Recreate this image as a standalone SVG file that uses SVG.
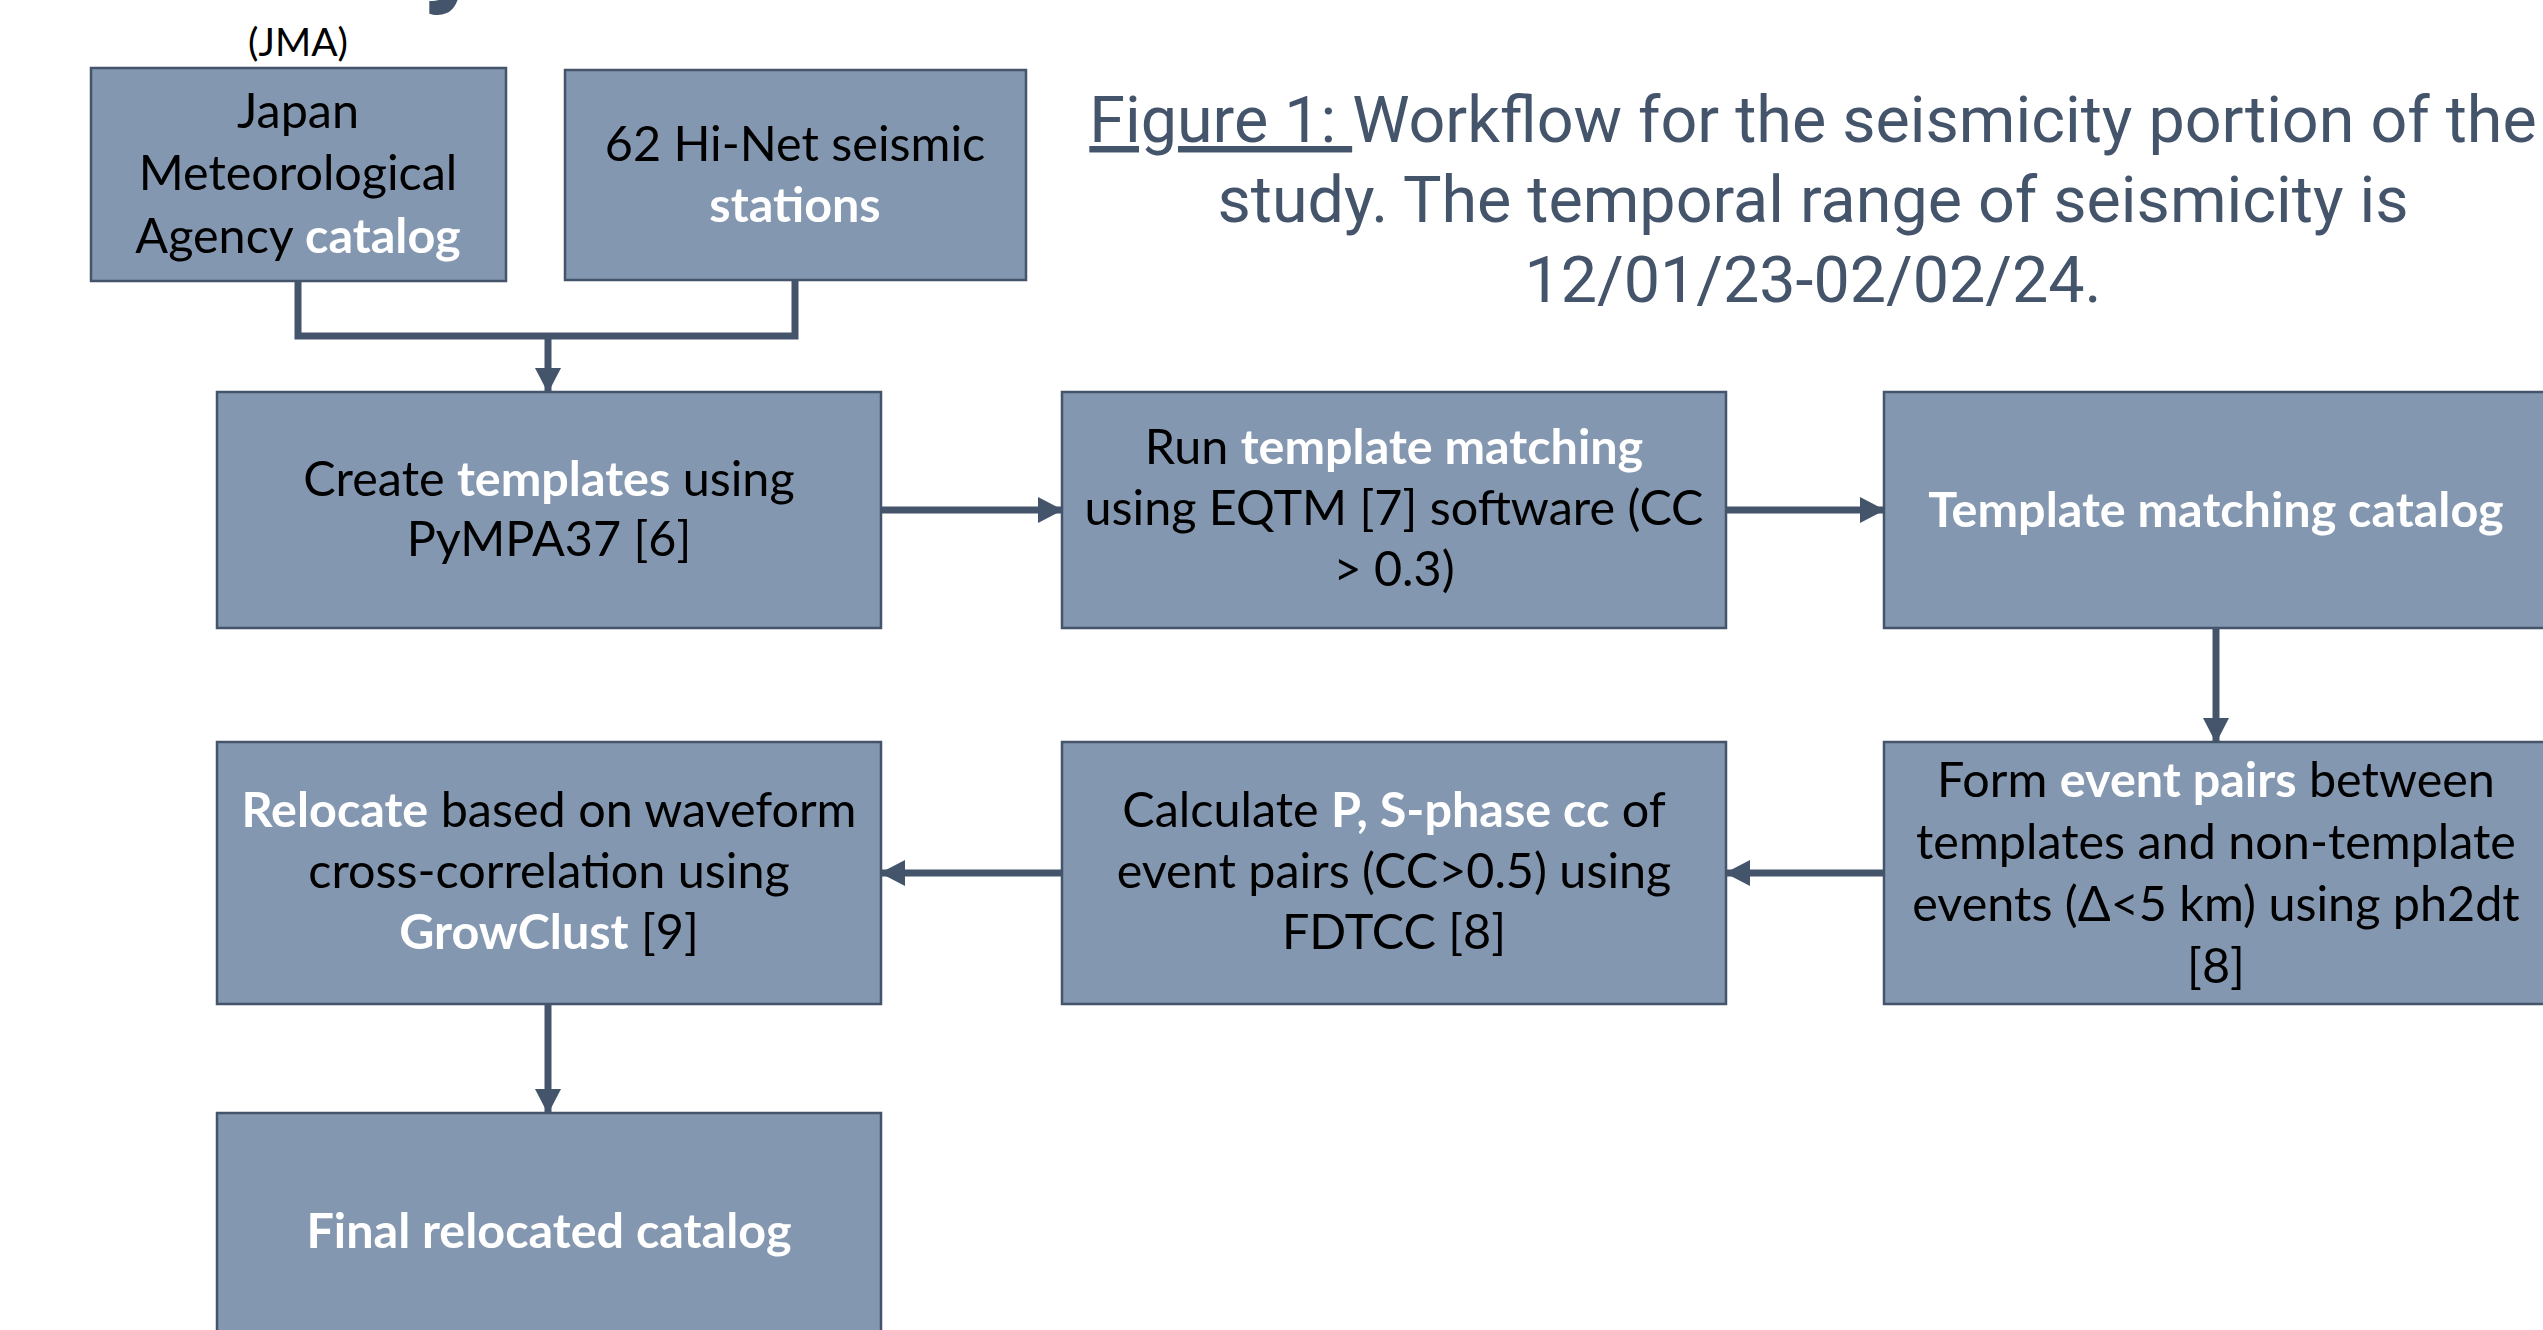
<svg xmlns="http://www.w3.org/2000/svg" width="2543" height="1330" viewBox="0 0 2543 1330">
<defs>
<style>
.box{fill:#8497B0;stroke:#44546A;stroke-width:2.5}
.t{font-family:Lato,"Open Sans",sans-serif;font-size:48.5px;fill:#000;text-anchor:middle}
.b{font-weight:bold;fill:#fff}
.cap{font-family:Roboto,"Liberation Sans",sans-serif;font-size:64.6px;fill:#44546A;text-anchor:middle}
.con{fill:none;stroke:#44546A;stroke-width:7}
</style>
<marker id="ah" markerUnits="userSpaceOnUse" markerWidth="25" markerHeight="26" refX="24" refY="13" orient="auto">
<path d="M0,0 L25,13 L0,26 z" fill="#44546A"/>
</marker>
</defs>
<rect width="2543" height="1330" fill="#fff"/>
<text x="422" y="-12" font-family="Roboto,sans-serif" font-weight="bold" font-size="125" fill="#44546A">y</text>
<g id="caption">
<text class="cap" x="1813" y="142"><tspan style="text-decoration:underline">Figure 1: </tspan>Workflow for the seismicity portion of the</text>
<text class="cap" x="1813" y="222">study. The temporal range of seismicity is</text>
<text class="cap" x="1813" y="302">12/01/23-02/02/24.</text>
</g>
<g id="jma-label"><text class="t" x="298" y="56" style="font-size:39px">(JMA)</text></g>
<g id="connectors">
<path class="con" d="M298,281 V336 H795 V279"/>
<path class="con" d="M548,336 V392" marker-end="url(#ah)"/>
<path class="con" d="M881,510 H1062" marker-end="url(#ah)"/>
<path class="con" d="M1726,510 H1884" marker-end="url(#ah)"/>
<path class="con" d="M2216,628 V742" marker-end="url(#ah)"/>
<path class="con" d="M1884,873 H1726" marker-end="url(#ah)"/>
<path class="con" d="M1062,873 H881" marker-end="url(#ah)"/>
<path class="con" d="M548,1004 V1113" marker-end="url(#ah)"/>
</g>
<g id="jma">
<rect class="box" x="91" y="68" width="415" height="213"/>
<text class="t" x="298" y="128">Japan</text>
<text class="t" x="298" y="190">Meteorological</text>
<text class="t" x="298" y="253">Agency <tspan class="b">catalog</tspan></text>
</g>
<g id="hinet">
<rect class="box" x="565" y="70" width="461" height="210"/>
<text class="t" x="795" y="161">62 Hi-Net seismic</text>
<text class="t b" x="795" y="222">stations</text>
</g>
<g id="create">
<rect class="box" x="217" y="392" width="664" height="236"/>
<text class="t" x="549" y="496">Create <tspan class="b">templates</tspan> using</text>
<text class="t" x="549" y="556">PyMPA37 [6]</text>
</g>
<g id="run">
<rect class="box" x="1062" y="392" width="664" height="236"/>
<text class="t" x="1394" y="464">Run <tspan class="b">template matching</tspan></text>
<text class="t" x="1394" y="525">using EQTM [7] software (CC</text>
<text class="t" x="1394" y="586">&gt; 0.3)</text>
</g>
<g id="tmcat">
<rect class="box" x="1884" y="392" width="664" height="236"/>
<text class="t b" x="2216" y="527">Template matching catalog</text>
</g>
<g id="pairs">
<rect class="box" x="1884" y="742" width="664" height="262"/>
<text class="t" x="2216" y="797">Form <tspan class="b">event pairs</tspan> between</text>
<text class="t" x="2216" y="859">templates and non-template</text>
<text class="t" x="2216" y="921">events (Δ&lt;5 km) using ph2dt</text>
<text class="t" x="2216" y="983">[8]</text>
</g>
<g id="fdtcc">
<rect class="box" x="1062" y="742" width="664" height="262"/>
<text class="t" x="1394" y="827">Calculate <tspan class="b">P, S-phase cc</tspan> of</text>
<text class="t" x="1394" y="888">event pairs (CC&gt;0.5) using</text>
<text class="t" x="1394" y="949">FDTCC [8]</text>
</g>
<g id="relocate">
<rect class="box" x="217" y="742" width="664" height="262"/>
<text class="t" x="549" y="827"><tspan class="b">Relocate</tspan> based on waveform</text>
<text class="t" x="549" y="888">cross-correlation using</text>
<text class="t" x="549" y="949"><tspan class="b">GrowClust</tspan> [9]</text>
</g>
<g id="final">
<rect class="box" x="217" y="1113" width="664" height="236"/>
<text class="t b" x="549" y="1248">Final relocated catalog</text>
</g>
</svg>
